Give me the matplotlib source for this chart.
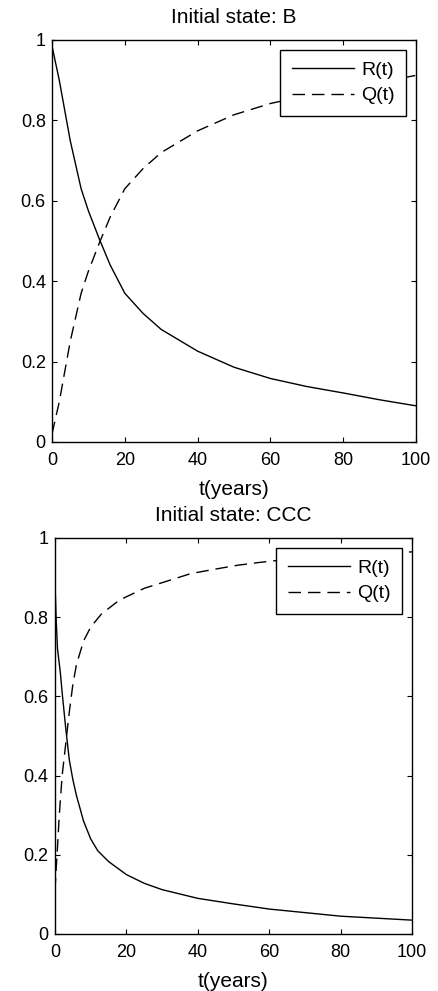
import matplotlib
matplotlib.use('Agg')
import matplotlib.pyplot as plt

plt.rcParams['font.family'] = ['Liberation Sans', 'DejaVu Sans']
plt.rcParams['lines.scale_dashes'] = False

# initial state B
t_b_r = [0, 2, 5, 8, 10, 13, 16, 20, 25, 30, 40, 50, 60, 70, 80, 90, 100]
r_b = [0.985, 0.90, 0.75, 0.63, 0.575, 0.505, 0.44, 0.37, 0.32, 0.28, 0.226, 0.186, 0.158, 0.138, 0.122, 0.105, 0.09]
t_b_q = [0, 2, 5, 8, 10, 13, 16, 20, 25, 30, 40, 50, 60, 70, 80, 90, 100]
q_b = [0.02, 0.10, 0.25, 0.37, 0.425, 0.495, 0.56, 0.63, 0.68, 0.72, 0.774, 0.814, 0.842, 0.862, 0.878, 0.895, 0.912]

# initial state CCC
t_c_r = [0, 0.3, 0.7, 1.5, 2, 3, 4, 5, 6, 8, 10, 12, 15, 20, 25, 30, 40, 50, 60, 70, 80, 90, 100]
r_c = [0.89, 0.80, 0.72, 0.66, 0.61, 0.52, 0.44, 0.39, 0.35, 0.285, 0.24, 0.21, 0.183, 0.15, 0.128, 0.112, 0.09, 0.076, 0.063, 0.054, 0.045, 0.04, 0.035]
t_c_q = [0, 0.3, 0.7, 1.2, 2, 3, 4, 5, 6, 8, 10, 13, 18, 25, 31, 38, 44, 51, 57, 62, 70, 80, 90, 100]
q_c = [0.11, 0.16, 0.22, 0.30, 0.40, 0.48, 0.56, 0.63, 0.68, 0.74, 0.775, 0.808, 0.843, 0.873, 0.89, 0.91, 0.92, 0.931, 0.938, 0.943, 0.95, 0.955, 0.96, 0.965]

xticks = [0, 20, 40, 60, 80, 100]
yticks = [0, 0.2, 0.4, 0.6, 0.8, 1]
ytick_labels = ['0', '0.2', '0.4', '0.6', '0.8', '1']
titles = ['Initial state: B', 'Initial state: CCC']
labels = ['R(t)', 'Q(t)']


def panel(ax, t_r, r, t_q, q, title):
    ax.plot(t_r, r, '-', color='black', lw=1.0, label=labels[0])
    ax.plot(t_q, q, color='black', lw=1.0, dashes=(9, 5), label=labels[1])
    ax.set_xlim(0, 100)
    ax.set_ylim(0, 1)
    ax.set_xticks(xticks)
    ax.set_yticks(yticks)
    ax.set_yticklabels(ytick_labels)
    ax.tick_params(direction='in', top=True, right=True, length=3.5, width=0.8, labelsize=13)
    ax.tick_params(axis='x', pad=7)
    ax.tick_params(axis='y', pad=4.5)
    for s in ax.spines.values():
        s.set_linewidth(1.0)
    ax.set_title(title, fontsize=15, pad=12)
    ax.set_xlabel('t(years)', fontsize=15, labelpad=8)
    leg = ax.legend(loc='upper right', fontsize=14, fancybox=False, framealpha=1,
                    edgecolor='black', handlelength=3.2, handletextpad=0.35,
                    labelspacing=0.4, borderpad=0.6, borderaxespad=0.5)
    leg.get_frame().set_linewidth(1.0)


def main():
    fig = plt.figure(figsize=(4.38, 9.91), dpi=100)
    ax1 = fig.add_axes([52 / 438, 549 / 991, 364 / 438, 402 / 991])
    ax2 = fig.add_axes([55 / 438, 57 / 991, 357 / 438, 396 / 991])
    panel(ax1, t_b_r, r_b, t_b_q, q_b, titles[0])
    panel(ax2, t_c_r, r_c, t_c_q, q_c, titles[1])
    plt.savefig('out.png', dpi=100)


if __name__ == '__main__':
    main()
